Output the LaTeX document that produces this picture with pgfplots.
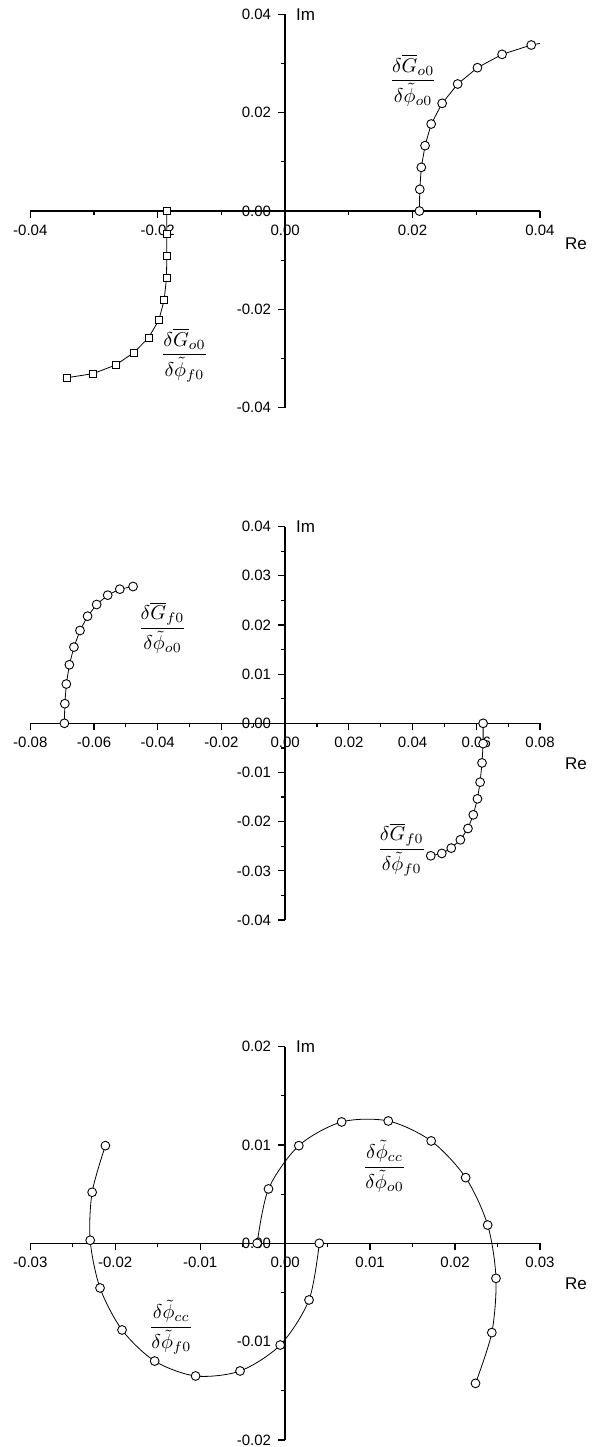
\documentclass[border=0pt]{standalone}
\usepackage[no-math]{fontspec}
\setmainfont{Liberation Sans}
\usepackage{amsmath}
\usepackage{pgfplots}
\pgfplotsset{compat=1.18}

% one "reference pixel" = 0.5pt
\pgfplotsset{
  reim/.style={
    axis lines*=middle,
    scale only axis, width=254.85pt, height=196.7pt,
    anchor=south west, clip=false,
    axis line style={line width=0.8pt},
    tick align=outside,
    major tick length=3.5pt, minor tick length=2pt,
    tick style={black, line width=0.6pt},
    hide obscured x ticks=false, hide obscured y ticks=false,
    scaled ticks=false,
    ticklabel style={font=\fontsize{7.5}{8}\selectfont},
    /pgf/number format/.cd, fixed, fixed zerofill, precision=2,
    assume math mode=true, /pgfplots/.cd,
    xlabel=Re, ylabel=Im,
    every axis x label/.style={at={(rel axis cs:1,0.5)}, anchor=west,
      xshift=9pt, yshift=-20pt, font=\fontsize{8.5}{10}\selectfont},
    every axis y label/.style={at={(rel axis cs:0.5,1)}, anchor=west,
      xshift=2pt, font=\fontsize{8.5}{10}\selectfont},
  },
  curve/.style={black, line width=0.4pt, mark=#1, mark size=2.2pt,
    mark options={fill=white, line width=0.45pt}},
}
\tikzset{lbl/.style={font=\fontsize{10}{11}\selectfont}}

\begin{document}
\begin{tikzpicture}
\useasboundingbox (0,0) rectangle (297pt,-723.5pt);

% top: G_o0
\begin{axis}[reim, at={(15.15pt,-203.85pt)},
  every axis x label/.append style={yshift=3.5pt},
  xmin=-0.04, xmax=0.04, ymin=-0.04, ymax=0.04,
  xtick={-0.04,-0.02,0,0.02,0.04}, minor xtick={-0.03,-0.01,0.01,0.03},
  ytick={-0.04,-0.02,0,0.02,0.04}, minor ytick={-0.03,-0.01,0.01,0.03}]
  \addplot[curve=*, mark indices={1,...,10}] coordinates {
    (0.02107,0) (0.02113,0.00441) (0.02137,0.00888) (0.02196,0.01329)
    (0.02292,0.01769) (0.02464,0.02190) (0.02708,0.02583) (0.03018,0.02915)
    (0.03405,0.03186) (0.03863,0.03376) (0.0400,0.0341)
  };
  \addplot[curve=square*, mark size=1.75pt] coordinates {
    (-0.01857,0) (-0.01857,-0.00468) (-0.01857,-0.00915) (-0.01863,-0.01369)
    (-0.01899,-0.01810) (-0.01982,-0.02217) (-0.02143,-0.02576) (-0.02375,-0.02881)
    (-0.02661,-0.03132) (-0.03018,-0.03308) (-0.03423,-0.03390)
  };
  \node[lbl] at (axis cs:0.0201,0.0266) {$\dfrac{\delta\overline{G}_{o0}}{\delta\tilde{\phi}_{o0}}$};
  \node[lbl] at (axis cs:-0.0158,-0.0293) {$\dfrac{\delta\overline{G}_{o0}}{\delta\tilde{\phi}_{f0}}$};
\end{axis}

% middle: G_f0
\begin{axis}[reim, at={(15.15pt,-460pt)},
  xmin=-0.08, xmax=0.08, ymin=-0.04, ymax=0.04,
  xtick={-0.08,-0.06,-0.04,-0.02,0,0.02,0.04,0.06,0.08},
  minor xtick={-0.07,-0.05,-0.03,-0.01,0.01,0.03,0.05,0.07},
  ytick={-0.04,-0.03,-0.02,-0.01,0,0.01,0.02,0.03,0.04},
  minor ytick={-0.035,-0.025,-0.015,-0.005,0.005,0.015,0.025,0.035}]
  \addplot[curve=*] coordinates {
    (-0.06929,0) (-0.06917,0.00399) (-0.06869,0.00799) (-0.06774,0.01191)
    (-0.06631,0.01550) (-0.06440,0.01888) (-0.06202,0.02179) (-0.05917,0.02416)
    (-0.05571,0.02606) (-0.05190,0.02728) (-0.04774,0.02782)
  };
  \addplot[curve=*] coordinates {
    (0.06214,0) (0.06214,-0.00413) (0.06179,-0.00805) (0.06119,-0.01198)
    (0.06036,-0.01536) (0.05905,-0.01861) (0.05738,-0.02139) (0.05500,-0.02369)
    (0.05214,-0.02538) (0.04917,-0.02646) (0.04571,-0.02694)
  };
  \node[lbl] at (axis cs:-0.0385,0.0194) {$\dfrac{\delta\overline{G}_{f0}}{\delta\tilde{\phi}_{o0}}$};
  \node[lbl] at (axis cs:0.0366,-0.0257) {$\dfrac{\delta\overline{G}_{f0}}{\delta\tilde{\phi}_{f0}}$};
\end{axis}

% bottom: phi_cc
\begin{axis}[reim, at={(15.15pt,-720pt)},
  xmin=-0.03, xmax=0.03, ymin=-0.02, ymax=0.02,
  xtick={-0.03,-0.02,-0.01,0,0.01,0.02,0.03},
  minor xtick={-0.025,-0.015,-0.005,0.005,0.015,0.025},
  ytick={-0.02,-0.01,0,0.01,0.02},
  minor ytick={-0.015,-0.005,0.005,0.015}]
  \addplot[curve=*, smooth] coordinates {
    (-0.00330,0) (-0.00196,0.00553) (0.00161,0.00993) (0.00665,0.01234)
    (0.01214,0.01244) (0.01719,0.01041) (0.02125,0.00668) (0.02384,0.00186)
    (0.02482,-0.00356) (0.02433,-0.00908) (0.02241,-0.01424)
  };
  \addplot[curve=*, smooth] coordinates {
    (0.00402,0) (0.00281,-0.00576) (-0.00058,-0.01034) (-0.00531,-0.01298)
    (-0.01054,-0.01349) (-0.01536,-0.01197) (-0.01920,-0.00881) (-0.02179,-0.00454)
    (-0.02295,0.00031) (-0.02272,0.00519) (-0.02116,0.00993)
  };
  \node[lbl] at (axis cs:0.0117,0.0078) {$\dfrac{\delta\tilde{\phi}_{cc}}{\delta\tilde{\phi}_{o0}}$};
  \node[lbl] at (axis cs:-0.0134,-0.0085) {$\dfrac{\delta\tilde{\phi}_{cc}}{\delta\tilde{\phi}_{f0}}$};
\end{axis}
\end{tikzpicture}
\end{document}
